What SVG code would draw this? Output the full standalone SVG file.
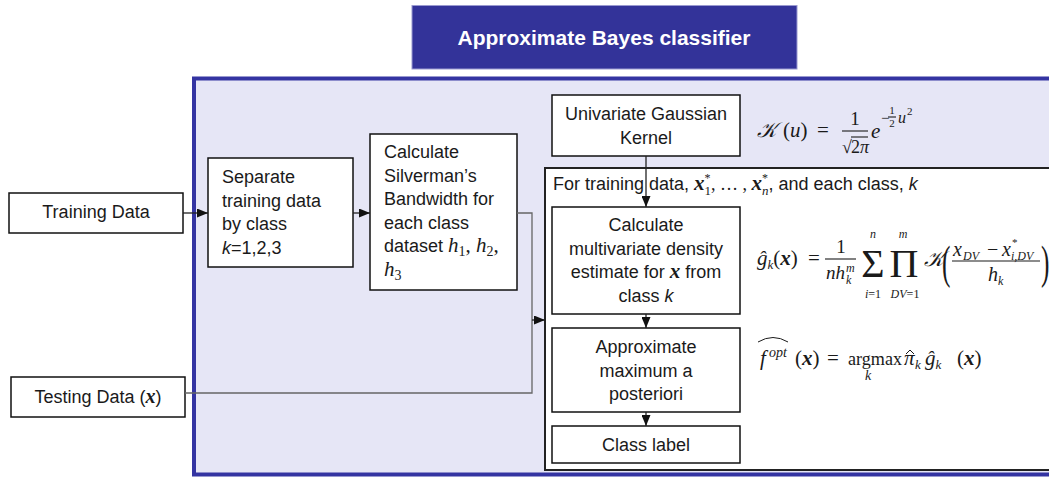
<svg xmlns="http://www.w3.org/2000/svg" width="1049" height="479" viewBox="0 0 1049 479">
<defs>
<marker id="ah" markerUnits="userSpaceOnUse" markerWidth="11" markerHeight="9" refX="11" refY="4.5" orient="auto">
<path d="M0,0 L11,4.5 L0,9 z" fill="#111"/>
</marker>
<style>
.bx{fill:#fff;stroke:#111;stroke-width:1.5}
.t{font-family:"Liberation Sans",Arial,sans-serif;font-size:18px;fill:#1a1a1a}
.c{text-anchor:middle}
.m{font-family:"Liberation Serif","Times New Roman",serif;fill:#1a1a1a}
.i{font-style:italic}
.bi{font-style:italic;font-weight:bold}
.ln{fill:none;stroke:#222;stroke-width:1.3}
.gl{fill:none;stroke:#666;stroke-width:1.3}
.bar{stroke:#1a1a1a;stroke-width:1.1}
</style>
</defs>
<rect width="1049" height="479" fill="#fff"/>
<g id="title">
<rect x="412" y="5.5" width="385" height="63.5" fill="#333399" stroke="#9a9ad0" stroke-width="1"/>
<text x="604" y="45" text-anchor="middle" font-family="Liberation Sans,Arial,sans-serif" font-size="21" font-weight="bold" fill="#fff">Approximate Bayes classifier</text>
</g>
<g id="container">
<rect x="194" y="78.5" width="870" height="396" fill="#e6e6f6" stroke="#3434a2" stroke-width="4"/>
</g>
<g id="loop">
<rect x="545" y="168" width="520" height="302" fill="#fff" stroke="#222" stroke-width="2"/>
<text x="553" y="190" class="t">For training data,  <tspan class="m bi" font-size="21">x</tspan><tspan class="m" font-size="12" dy="-8">*</tspan><tspan class="m" font-size="13" dx="-6" dy="13">1</tspan><tspan class="m" font-size="18" dy="-5">, … , </tspan><tspan class="m bi" font-size="21">x</tspan><tspan class="m" font-size="12" dy="-8">*</tspan><tspan class="m i" font-size="13" dx="-6" dy="13">n</tspan><tspan dy="-5">, and each class, </tspan><tspan class="i">k</tspan></text>
</g>
<g id="training">
<rect class="bx" x="9" y="193" width="174" height="40"/>
<text class="t c" x="96" y="218">Training Data</text>
</g>
<g id="testing">
<rect class="bx" x="11" y="377" width="174" height="40"/>
<text class="t c" x="98" y="403">Testing Data (<tspan class="m bi" font-size="20">x</tspan>)</text>
</g>
<g id="separate">
<rect class="bx" x="208" y="158" width="145" height="109"/>
<text class="t" x="222" y="183">Separate</text>
<text class="t" x="222" y="206.5">training data</text>
<text class="t" x="222" y="230">by class</text>
<text class="t" x="222" y="253.5"><tspan class="i">k</tspan>=1,2,3</text>
</g>
<g id="silverman">
<rect class="bx" x="370" y="134" width="147" height="156"/>
<text class="t" x="384" y="158">Calculate</text>
<text class="t" x="384" y="181.5">Silverman’s</text>
<text class="t" x="384" y="205">Bandwidth for</text>
<text class="t" x="384" y="228.5">each class</text>
<text class="t" x="384" y="252">dataset <tspan class="m i" font-size="21">h</tspan><tspan class="m" font-size="14" dy="4">1</tspan><tspan class="m" font-size="21" dy="-4">, </tspan><tspan class="m i" font-size="21">h</tspan><tspan class="m" font-size="14" dy="4">2</tspan><tspan class="m" font-size="21" dy="-4">,</tspan></text>
<text class="t" x="384" y="275.5"><tspan class="m i" font-size="21">h</tspan><tspan class="m" font-size="14" dy="4">3</tspan></text>
</g>
<g id="kernel">
<rect class="bx" x="552" y="95" width="188" height="61"/>
<text class="t c" x="646" y="120">Univariate Gaussian</text>
<text class="t c" x="646" y="143.5">Kernel</text>
</g>
<g id="density">
<rect class="bx" x="552" y="207" width="188" height="107"/>
<text class="t c" x="646" y="231">Calculate</text>
<text class="t c" x="646" y="254.5">multivariate density</text>
<text class="t c" x="646" y="278">estimate for <tspan class="m bi" font-size="21">x</tspan> from</text>
<text class="t c" x="646" y="301.5">class <tspan class="i">k</tspan></text>
</g>
<g id="map">
<rect class="bx" x="552" y="328" width="188" height="84"/>
<text class="t c" x="646" y="353">Approximate</text>
<text class="t c" x="646" y="376.5">maximum a</text>
<text class="t c" x="646" y="400">posteriori</text>
</g>
<g id="classlabel">
<rect class="bx" x="552" y="426" width="188" height="37"/>
<text class="t c" x="646" y="450.5">Class label</text>
</g>
<g id="connectors">
<line class="ln" x1="183" y1="213" x2="208" y2="213" marker-end="url(#ah)"/>
<line class="ln" x1="353" y1="213" x2="370" y2="213" marker-end="url(#ah)"/>
<line class="ln" x1="646" y1="156" x2="646" y2="207" marker-end="url(#ah)"/>
<line class="ln" x1="646" y1="314" x2="646" y2="328" marker-end="url(#ah)"/>
<line class="ln" x1="646" y1="412" x2="646" y2="426" marker-end="url(#ah)"/>
<polyline class="gl" points="517,213 532,213 532,393 185,393"/>
<line class="ln" x1="532" y1="320" x2="545" y2="320" marker-end="url(#ah)"/>
</g>
<g id="eq-kernel" class="m">
<text x="757" y="137" font-size="21" class="i">𝒦</text>
<text x="783" y="137" font-size="21">(<tspan class="i">u</tspan>)</text>
<text x="817" y="137" font-size="21">=</text>
<text x="855" y="125" font-size="19" text-anchor="middle">1</text>
<line class="bar" x1="842" y1="131" x2="868" y2="131"/>
<text x="842" y="153" font-size="18">√</text>
<line class="bar" x1="851" y1="137" x2="868" y2="137"/>
<text x="851" y="153" font-size="18">2<tspan class="i">π</tspan></text>
<text x="871" y="138" font-size="21" class="i">e</text>
<text x="881" y="123" font-size="15">−</text>
<text x="892" y="114" font-size="11" text-anchor="middle">1</text>
<line class="bar" x1="888" y1="117" x2="896" y2="117" stroke-width="0.8"/>
<text x="892" y="127" font-size="11" text-anchor="middle">2</text>
<text x="898" y="123" font-size="16" class="i">u</text>
<text x="907" y="115" font-size="11">2</text>
</g>
<g id="eq-density" class="m">
<text x="757" y="265" font-size="21"><tspan class="i">ĝ</tspan><tspan font-size="13" class="i" dy="4">k</tspan><tspan dy="-4">(</tspan><tspan class="bi">x</tspan>)</text>
<text x="808" y="265" font-size="21">=</text>
<text x="841" y="253" font-size="19" text-anchor="middle">1</text>
<line class="bar" x1="825" y1="259" x2="856" y2="259"/>
<text x="826" y="279" font-size="19" class="i">nh</text>
<text x="846" y="272" font-size="12" class="i">m</text>
<text x="846" y="284" font-size="12" class="i">k</text>
<text x="873" y="277" font-size="40" text-anchor="middle">Σ</text>
<text x="873" y="238" font-size="12" text-anchor="middle" class="i">n</text>
<text x="873" y="298" font-size="12" text-anchor="middle"><tspan class="i">i</tspan>=1</text>
<text x="904" y="277" font-size="40" text-anchor="middle">Π</text>
<text x="903" y="238" font-size="12" text-anchor="middle" class="i">m</text>
<text x="905" y="298" font-size="12" text-anchor="middle"><tspan class="i">DV</tspan>=1</text>
<text x="924" y="266" font-size="21" class="i">𝒦</text>
<text transform="translate(942,278) scale(0.55,1)" font-size="46">(</text>
<text x="953" y="256" font-size="20" class="i">x</text>
<text x="963" y="260" font-size="12" class="i">DV</text>
<text x="987" y="256" font-size="20">−</text>
<text x="1002" y="256" font-size="20" class="i">x</text>
<text x="1012" y="246" font-size="11">*</text>
<text x="1011" y="260" font-size="12" class="i">i,DV</text>
<line class="bar" x1="952" y1="261" x2="1040" y2="261"/>
<text x="988" y="281" font-size="20" class="i">h</text>
<text x="998" y="285" font-size="12" class="i">k</text>
<text transform="translate(1041,278) scale(0.55,1)" font-size="46">)</text>
</g>
<g id="eq-map" class="m">
<path d="M758,342 Q773,333 788,342" fill="none" stroke="#1a1a1a" stroke-width="1"/>
<text x="760" y="365" font-size="21" class="i">f</text>
<text x="769" y="357" font-size="14" class="i">opt</text>
<text x="795" y="365" font-size="21">(<tspan class="bi">x</tspan>)</text>
<text x="827" y="365" font-size="21">=</text>
<text x="848" y="365" font-size="19" textLength="54" lengthAdjust="spacingAndGlyphs">argmax</text>
<text x="868" y="380" font-size="14" text-anchor="middle" class="i">k</text>
<path d="M906,354 L910,350 L914,354" fill="none" stroke="#1a1a1a" stroke-width="1"/>
<text x="904" y="365" font-size="21" class="i">π</text>
<text x="915" y="369" font-size="13" class="i">k</text>
<text x="925" y="365" font-size="21"><tspan class="i">ĝ</tspan><tspan font-size="13" class="i" dy="4">k</tspan></text>
<text x="957" y="365" font-size="21">(<tspan class="bi">x</tspan>)</text>
</g>
</svg>
